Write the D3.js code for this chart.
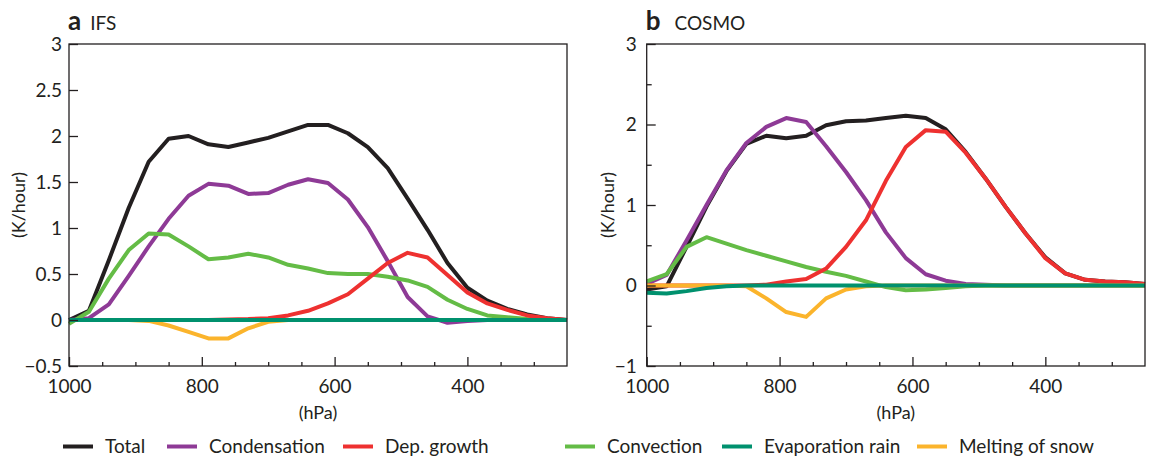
<!DOCTYPE html>
<html>
<head>
<meta charset="utf-8">
<script src="https://cdn.jsdelivr.net/npm/d3@7"></script>
<style>
  body { margin: 0; background: #fff; }
  svg text { font-family: Lato, "Noto Sans", sans-serif; fill: #231f20; }
  .axis path, .axis line { stroke: #231f20; stroke-width: 1.3; }
</style>
</head>
<body>
<svg id="chart" width="1153" height="457"></svg>
<script>
// pressure levels (hPa)
var pressure = [1000, 970, 940, 910, 880, 850, 820, 790, 760, 730, 700, 670, 640,
                610, 580, 550, 520, 490, 460, 430, 400, 370, 340, 310, 280, 250];

var seriesNames = ["Total", "Condensation", "Dep. growth", "Convection", "Evaporation rain", "Melting of snow"];
var seriesColors = ["#231f20", "#8e3a96", "#ee3130", "#64bc46", "#00916e", "#fbb42c"];

// a) IFS
var ifsTotal        = [0, 0.1, 0.65, 1.22, 1.72, 1.97, 2.0, 1.91, 1.88, 1.93, 1.98, 2.05, 2.12, 2.12, 2.03, 1.88, 1.65, 1.32, 0.98, 0.62, 0.35, 0.21, 0.12, 0.06, 0.02, 0];
var ifsCondensation = [0, 0.02, 0.17, 0.48, 0.8, 1.1, 1.35, 1.48, 1.46, 1.37, 1.38, 1.47, 1.53, 1.49, 1.31, 1.01, 0.64, 0.25, 0.04, -0.03, -0.01, 0, 0, 0, 0, 0];
var ifsDepGrowth    = [0, 0, 0, 0, 0, 0, 0, 0, 0.005, 0.01, 0.02, 0.05, 0.1, 0.18, 0.28, 0.45, 0.62, 0.73, 0.68, 0.49, 0.3, 0.18, 0.11, 0.05, 0.02, 0];
var ifsConvection   = [-0.04, 0.09, 0.45, 0.76, 0.94, 0.93, 0.8, 0.66, 0.68, 0.72, 0.68, 0.6, 0.56, 0.51, 0.5, 0.5, 0.47, 0.43, 0.36, 0.22, 0.12, 0.05, 0.03, 0.01, 0, 0];
var ifsEvapRain     = [0, 0, 0, 0, 0, 0, 0, 0, 0, 0, 0, 0, 0, 0, 0, 0, 0, 0, 0, 0, 0, 0, 0, 0, 0, 0];
var ifsMelting      = [0, 0, 0, 0, -0.01, -0.06, -0.13, -0.2, -0.2, -0.09, -0.02, 0, 0, 0, 0, 0, 0, 0, 0, 0, 0, 0, 0, 0, 0, 0];

// b) COSMO
var cosmoTotal        = [-0.05, -0.01, 0.48, 0.98, 1.42, 1.76, 1.86, 1.83, 1.86, 1.99, 2.04, 2.05, 2.08, 2.11, 2.08, 1.94, 1.66, 1.33, 0.98, 0.65, 0.35, 0.15, 0.07, 0.05, 0.04, 0.02];
var cosmoCondensation = [0.02, 0.13, 0.56, 1.0, 1.43, 1.77, 1.97, 2.08, 2.03, 1.73, 1.41, 1.06, 0.66, 0.34, 0.14, 0.06, 0.02, 0.01, 0, 0, 0, 0, 0, 0, 0, 0];
var cosmoDepGrowth    = [0, 0, 0, 0, 0, 0, 0.01, 0.05, 0.08, 0.21, 0.48, 0.81, 1.3, 1.72, 1.93, 1.91, 1.65, 1.33, 0.98, 0.65, 0.34, 0.15, 0.07, 0.05, 0.04, 0.02];
var cosmoConvection   = [0.05, 0.14, 0.48, 0.6, 0.52, 0.44, 0.37, 0.3, 0.23, 0.17, 0.12, 0.05, -0.02, -0.06, -0.05, -0.03, -0.01, 0, 0, 0, 0, 0, 0, 0, 0, 0];
var cosmoEvapRain     = [-0.09, -0.1, -0.07, -0.03, -0.01, 0, 0, 0, 0, 0, 0, 0, 0, 0, 0, 0, 0, 0, 0, 0, 0, 0, 0, 0, 0, 0];
var cosmoMelting      = [0, 0, 0, 0, 0, -0.01, -0.16, -0.33, -0.39, -0.16, -0.05, -0.01, 0, 0, 0, 0, 0, 0, 0, 0, 0, 0, 0, 0, 0, 0];

var xMajor = [1000, 800, 600, 400];
var xMinor = [950, 900, 850, 750, 700, 650, 550, 500, 450, 350, 300];

var svg = d3.select("#chart");

// draw order: total, condensation, convection, dep. growth, melting, evaporation on top
var drawOrder = [0, 1, 3, 2, 5, 4];

var drawPanel = function(p) {
    var x = d3.scaleLinear().domain([1000, 250]).range([p.left, p.right]);
    var y = d3.scaleLinear().domain(p.yDomain).range([p.bottom, p.top]);

    var g = svg.append("g");

    var line = d3.line()
        .x(function(d, i) { return x(pressure[i]); })
        .y(function(d) { return y(d); });

    drawOrder.forEach(function(k) {
        g.append("path")
            .attr("d", line(p.series[k]))
            .attr("fill", "none")
            .attr("stroke", seriesColors[k])
            .attr("stroke-width", 4)
            .attr("stroke-linejoin", "round");
    });

    // frame
    g.append("rect")
        .attr("x", p.left).attr("y", p.top)
        .attr("width", p.right - p.left).attr("height", p.bottom - p.top)
        .attr("fill", "none").attr("stroke", "#231f20").attr("stroke-width", 1.3);

    // x axis (ticks pointing inward)
    var xAx = g.append("g").attr("class", "axis")
        .attr("transform", "translate(0," + p.bottom + ")")
        .call(d3.axisBottom(x).tickValues(xMajor).tickSizeInner(-9).tickSizeOuter(0).tickPadding(10)
            .tickFormat(d3.format("d")));
    xAx.select(".domain").remove();
    xAx.selectAll("text").style("font-size", "19px").attr("dy", "0.9em");

    var xMin = g.append("g").attr("class", "axis")
        .attr("transform", "translate(0," + p.bottom + ")")
        .call(d3.axisBottom(x).tickValues(xMinor).tickSizeInner(-4).tickSizeOuter(0).tickFormat(""));
    xMin.select(".domain").remove();

    // y axis
    var yAx = g.append("g").attr("class", "axis")
        .attr("transform", "translate(" + p.left + ",0)")
        .call(d3.axisLeft(y).tickValues(p.yTicks).tickSizeInner(-9).tickSizeOuter(0).tickPadding(p.yPad)
            .tickFormat(function(d) { return d < 0 ? "\u2212" + Math.abs(d) : d; }));
    yAx.select(".domain").remove();
    yAx.selectAll("text").style("font-size", "19px");

    if (p.yMinor.length) {
        var yMin = g.append("g").attr("class", "axis")
            .attr("transform", "translate(" + p.left + ",0)")
            .call(d3.axisLeft(y).tickValues(p.yMinor).tickSizeInner(-5).tickSizeOuter(0).tickFormat(""));
        yMin.select(".domain").remove();
    }

    // axis labels
    g.append("text")
        .attr("transform", "translate(" + p.yLabelX + "," + ((p.top + p.bottom) / 2) + ") rotate(-90)")
        .attr("text-anchor", "middle")
        .style("font-size", "18px")
        .text("(K/hour)");

    g.append("text")
        .attr("x", (p.left + p.right) / 2)
        .attr("y", 419)
        .attr("text-anchor", "middle")
        .style("font-size", "18px")
        .text("(hPa)");

    // panel title
    var t = g.append("text").attr("x", p.left - 1).attr("y", 30);
    t.append("tspan").style("font-size", "26px").style("font-weight", "bold").text(p.letter);
    t.append("tspan").attr("dx", p.titleGap).style("font-size", "19px").text(p.name);
};

drawPanel({
    left: 69, right: 567, top: 44, bottom: 366,
    yDomain: [-0.5, 3],
    yTicks: [-0.5, 0, 0.5, 1, 1.5, 2, 2.5, 3],
    yMinor: [],
    yPad: 7,
    yLabelX: 25,
    letter: "a", name: "IFS", titleGap: 9,
    series: [ifsTotal, ifsCondensation, ifsDepGrowth, ifsConvection, ifsEvapRain, ifsMelting]
});

drawPanel({
    left: 646.7, right: 1145, top: 44, bottom: 366,
    yDomain: [-1, 3],
    yTicks: [-1, 0, 1, 2, 3],
    yMinor: [-0.5, 0.5, 1.5, 2.5],
    yPad: 10,
    yLabelX: 614,
    letter: "b", name: "COSMO", titleGap: 14,
    series: [cosmoTotal, cosmoCondensation, cosmoDepGrowth, cosmoConvection, cosmoEvapRain, cosmoMelting]
});

// legend
var legendX = [63, 167, 343, 565, 722, 917];
var legend = svg.append("g");
seriesNames.forEach(function(name, i) {
    legend.append("line")
        .attr("x1", legendX[i]).attr("x2", legendX[i] + 30)
        .attr("y1", 446.5).attr("y2", 446.5)
        .attr("stroke", seriesColors[i]).attr("stroke-width", 4);
    legend.append("text")
        .attr("x", legendX[i] + 42).attr("y", 453)
        .style("font-size", "19px")
        .text(name);
});
</script>
</body>
</html>
